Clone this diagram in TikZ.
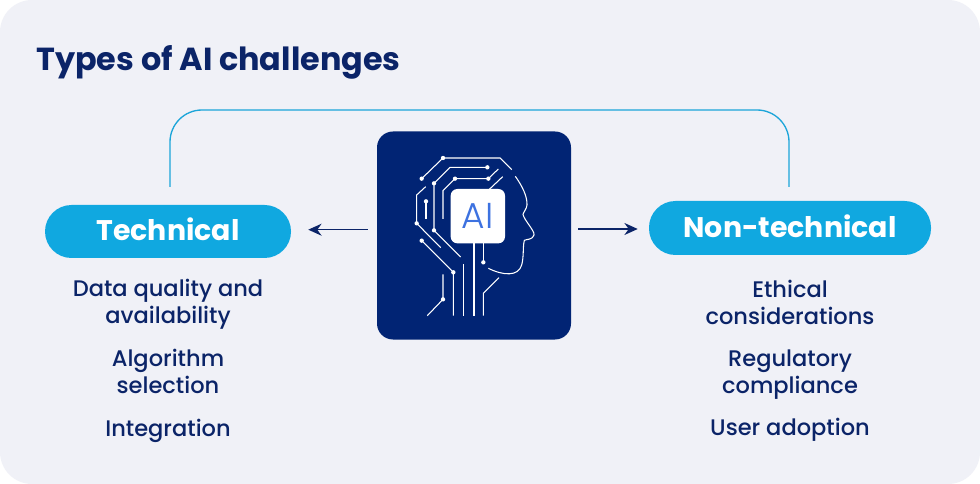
\documentclass[tikz,border=0pt]{standalone}
\usepackage{fontspec}
\setmainfont{Poppins}[UprightFont=* Medium,BoldFont=* Bold]
\newfontfamily\chipfont{Poppins Light}
\usetikzlibrary{arrows.meta}
\definecolor{navy}{HTML}{0B2468}
\definecolor{iconblue}{HTML}{012474}
\definecolor{pillblue}{HTML}{10A8E0}
\definecolor{linkblue}{HTML}{1CA5D9}
\definecolor{panel}{HTML}{F0F1F7}
\definecolor{chipblue}{HTML}{3D72E0}
\tikzset{
	pill/.style={fill=pillblue, text=white, rounded corners=26.5*0.75pt, font=\bfseries\fontsize{21.3}{25}\selectfont, inner sep=0pt, text height=18pt, text depth=4pt},
	item/.style={text=navy, align=center, font=\fontsize{16.9}{20.2}\selectfont, inner sep=0pt},
	link/.style={draw=linkblue, line width=1pt, rounded corners=24pt},
	side/.style={draw=navy, line width=1pt, -{Stealth[length=10pt,width=9pt]}},
	trace/.style={draw=white, line width=0.8pt},
}
\begin{document}
\begin{tikzpicture}[x=0.75pt, y=-0.75pt]
	\useasboundingbox (0,0) rectangle (980,484);
	\fill [white] (0,0) rectangle (980,484);
	\fill [panel, rounded corners=24pt] (0,0) rectangle (980,484);
	\node [text=navy, anchor=west, inner sep=0pt, font=\bfseries\fontsize{23.9}{28}\selectfont] (title) at (36,62) {Types of AI challenges};
	\node [fill=iconblue, rounded corners=12pt, minimum width=194*0.75pt, minimum height=208*0.75pt, inner sep=0pt] (icon) at (474,235.5) {};
	\node [pill, minimum width=246*0.75pt, minimum height=53*0.75pt] (tech) at (168,231.5) {Technical};
	\node [pill, minimum width=282*0.75pt, minimum height=54*0.75pt] (nontech) at (790,228) {Non-technical};
	\node [item] (data) at (168,304) {Data quality and\\availability};
	\node [item] (algo) at (168,371) {Algorithm\\selection};
	\node [item] (integ) at (168,430.5) {Integration};
	\node [item] (ethic) at (790,302.5) {Ethical\\considerations};
	\node [item] (regul) at (790,374.5) {Regulatory\\compliance};
	\node [item] (adopt) at (790,430) {User adoption};
	\coordinate (techtop) at (170,187);
	\coordinate (nontop) at (789,187);
	\path [link] (techtop) -- (170,110) -- (789,110) -- (nontop);
	\coordinate (leftend) at ([yshift=1.35pt]icon.west |- tech.east);
	\coordinate (rightend) at ([yshift=-0.75pt]icon.east |- nontech.west);
	\path [side, shorten <=6.75pt, shorten >=12.75pt] (leftend) -- ([yshift=1.35pt]tech.east);
	\path [side, shorten <=5.25pt, shorten >=8.25pt] (rightend) -- ([yshift=-0.75pt]nontech.west);
	\begin{scope}[shift={(370,125)}, x=0.25pt, y=-0.25pt]
		\path [trace] (155,161) -- (219,99) -- (390,99) -- (425,134);
		\path [trace] (352,127) -- (240,127) -- (192,175) -- (192,316) -- (272,396);
		\path [trace] (219,282) -- (219,197) -- (255,161) -- (355,161) -- (385,132);
		\path [trace] (358,193) -- (398,155);
		\path [trace] (167,185) -- (140,210) -- (140,295) -- (212,368);
		\path [trace] (168,229) -- (168,282);
		\path [trace] (155,347) -- (250,442) -- (250,572);
		\path [trace] (219,448) -- (219,523) -- (172,572);
		\path [trace] (281,418) -- (281,572);
		\path [trace] (312,350) -- (312,572);
		\path [trace] (340,350) -- (340,412);
		\path [trace] (340,572) -- (340,505) -- (387,458);
		% head outline
		\path [trace] (436,154) .. controls (458,185) and (472,215) .. (471,240) .. controls (470,252) and (460,262) .. (459,268) .. controls (462,285) and (495,318) .. (492,330) .. controls (488,345) and (470,342) .. (463,346) .. controls (458,365) and (462,395) .. (455,420) .. controls (445,455) and (400,452) .. (355,430);
		\foreach \dx/\dy in {155/161,219/99,352/127,192/175,192/316,255/161,355/161,140/295,168/229,155/347,250/442,219/523,340/412}
			\fill [white] (\dx,\dy) circle (6.5);
		\node [fill=white, rounded corners=5pt, minimum width=163*0.25pt, minimum height=163*0.25pt, inner sep=0pt, text=chipblue, font=\chipfont\fontsize{27}{27}\selectfont] (chip) at (323.5,273.5) {AI};
	\end{scope}
\end{tikzpicture}
\end{document}
